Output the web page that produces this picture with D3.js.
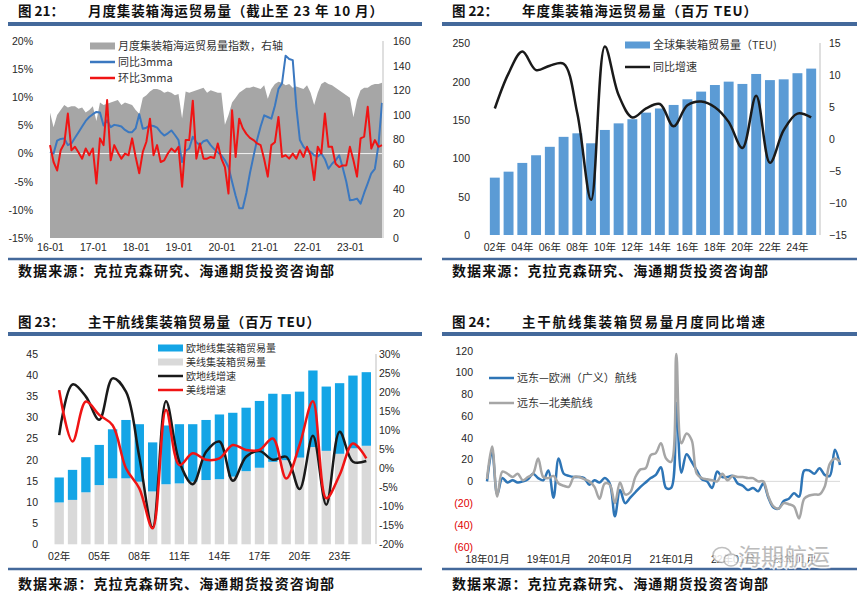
<!DOCTYPE html>
<html>
<head>
<meta charset="utf-8">
<script src="https://cdn.jsdelivr.net/npm/d3@7"></script>
<style>
body { margin: 0; background: #fff; }
svg { display: block; font-family: Arial, "Liberation Sans", "Noto Sans CJK SC", sans-serif; }
.axis path, .axis line { stroke: none; }
.axis text { font-size: 10.5px; fill: #262626; font-family: Arial, "Liberation Sans", "Noto Sans CJK SC", sans-serif; }
.title { font-family: "Noto Sans CJK SC", sans-serif; font-weight: 700; font-size: 13.5px; fill: #111; }
.source { font-family: "Noto Sans CJK SC", sans-serif; font-weight: 700; font-size: 14px; fill: #111; }
.legend { font-family: "Noto Sans CJK SC", sans-serif; font-size: 11px; fill: #333; }
.legend.small { font-size: 10px; }
</style>
</head>
<body>
<svg id="chart" width="864" height="593"></svg>
<script>
// ---- fig 21: monthly index (right axis), yoy 3mma, mom 3mma (left axis, %)
const p1Ticks = ['16-01', '17-01', '18-01', '19-01', '20-01', '21-01', '22-01', '23-01'];
const p1TickIdx = [0, 12, 24, 36, 48, 60, 72, 84];
const p1Index = [
  102, 90, 100, 104, 108, 106, 107, 107, 105, 106, 102, 104,
  107, 95, 110, 108, 109, 110, 111, 112, 108, 110, 109, 108,
  104, 101, 114, 116, 119, 121, 121, 120, 118, 119, 118, 116,
  117, 97, 119, 118, 119, 120, 121, 122, 118, 120, 119, 118,
  118, 92, 100, 110, 114, 118, 120, 122, 122, 123, 122, 121,
  124, 113, 121, 125, 127, 126, 124, 125, 122, 123, 122, 121,
  124, 118, 108, 118, 125, 127, 125, 124, 122, 120, 118, 116,
  114, 98, 112, 120, 122, 122, 124, 125, 125, 126];
const p1Yoy = [
  0.3, 0, 2.3, 2.6, 2.7, 1.5, 1.8, 2.8, 3.8, 4.8, 5.8, 6.5,
  7.0, 7.4, 7.3, 5.0, 5.9, 4.7, 5.1, 5.0, 4.8, 4.2, 3.8, 3.8,
  4.5, 7.0, 4.4, 4.6, 5.0, 4.9, 4.6, 3.8, 3.2, 3.6, 4.1, 3.3,
  2.4, -1.5, 0.5, 0.9, 3.0, 2.0, 1.5, 2.2, 2.4, 1.5, 0.8, 0.2,
  -0.3, -1.2, -2.4, -5.0, -7.5, -9.7, -9.7, -7.0, -3.5, -0.5, 2.4, 4.8,
  6.8, 6.5, 6.2, 8.5, 11.5, 12.5, 17.4, 16.8, 16.6, 8.3, 2.4, 1.2,
  0.6, 0.3, -0.3, -0.5, 0, -1.0, -2.7, -1.8, -1.2, -0.3, -2.5, -5.0,
  -8.3, -8.2, -8.0, -8.9, -7.0, -5.3, -3.5, -2.7, 1.5, 9.0];
const p1Mom = [
  1.5, -1.5, -3.0, 0.6, 1.8, 7.1, 0.6, 1.2, 0.2, -0.9, 0.9, -0.3,
  0.9, -5.3, 2.7, 1.5, 9.5, -1.2, 1.5, 0.2, -0.9, 0.0, -0.3, 2.7,
  -0.6, -3.5, 0.3, 2.1, 6.2, -0.3, 1.5, -1.5, -1.2, 0.0, 0.9, 0.3,
  1.2, -5.9, 2.4, 2.4, 9.4, -0.9, 1.8, -0.9, -0.9, -0.6, -0.8, 1.8,
  -0.9, -2.4, -7.1, 7.7, -0.6, 6.2, 4.5, 3.5, 2.8, 2.4, 1.8, 1.5,
  -1.0, -4.1, 1.5, 2.0, 6.5, -0.6, -0.3, -0.9, 0.0, -0.9, 0.6, -0.6,
  1.2, -0.3, -4.7, 1.2, 0.0, 7.1, 1.2, 1.2, -1.8, -2.4, -2.1, -2.1,
  1.2, -1.2, -4.1, 2.7, 3.0, 8.3, 0.9, 2.4, 1.2, 1.5];

// ---- fig 22: annual global container trade (mn TEU) and yoy growth (%)
const p2Years = ['02', '03', '04', '05', '06', '07', '08', '09', '10', '11', '12', '13',
  '14', '15', '16', '17', '18', '19', '20', '21', '22', '23', '24', '25'];
const p2Volume = [74.8, 82.6, 94, 104, 115, 128, 132.6, 119.6, 137, 145.6, 151, 159.6,
  165, 169.6, 177, 187, 195.6, 200, 197, 210, 202, 203, 211, 217];
const p2Growth = [4.8, 10.3, 13.7, 10.8, 11.5, 11.8, 4.0, -9.5, 14.5, 6.9, 3.4, 4.8,
  5.5, 2.0, 5.3, 5.9, 5.0, 2.7, -1.4, 6.8, -3.7, 1.4, 4.0, 3.4];

// ---- fig 23: main-lane trade (mn TEU) and growth (%)
const p3Years = p2Years.slice();
const p3Us = [9.9, 10.5, 12.3, 14.0, 15.6, 15.6, 14.8, 12.5, 14.2, 14.4, 14.8, 15.2,
  15.4, 16.0, 17.3, 18.1, 19.5, 19.9, 20.5, 23.0, 22.1, 21.4, 22.7, 23.3];
const p3Eu = [5.9, 7.1, 8.3, 9.5, 11.6, 13.8, 13.6, 11.6, 13.9, 14.0, 13.6, 14.2,
  15.3, 15.1, 15.0, 15.8, 16.1, 15.6, 15.6, 18.1, 15.2, 16.7, 17.2, 17.4];
const p3EuGrowth = [8.7, 22.0, 18.8, 12.7, 23.6, 20.1, 3.0, -15.6, 17.6, 1.7, -4.2, 4.3,
  7.0, -3.3, 3.0, 4.5, 2.2, 3.0, -5.5, 8.5, -9.6, 9.6, 1.7, 1.9];
const p3UsGrowth = [20.5, 7.0, 17.5, 14.0, 11.3, 0.0, -5.3, -15.8, 15.3, 0.8, 3.9, 2.2,
  2.6, 6.1, 4.8, 4.8, 7.8, -2.7, 6.1, 17.6, -7.9, -1.8, 6.5, 2.6];
const p3TickYears = ['02', '05', '08', '11', '14', '17', '20', '23'];

// ---- fig 24: monthly yoy growth, 18-01 .. 23-10
const p4Ticks = ['18年01月', '19年01月', '20年01月', '21年01月', '22年01月', '23年01月'];
const p4TickIdx = [0, 12, 24, 36, 48, 60];
const p4Europe = [
  0, 28, -12, 3, -1, 1, -1, 0, 2, 7, 3, 1,
  10, -15, 21, 7, 5, 4, 4, 3, -3, 1, -1, 3,
  -2, -32, -8, -20, -15, -10, -5, -1, 3, 6, 13, -6,
  -6, 72, 8, 25, 18, 10, 2, 0, -6, 9, 4, 4,
  5, -2, -4, -8, -6, -9, -2, -15, -24, -25, -18, -16,
  -11, -14, 10, 10, 7, 12, 6, 5, 29, 15];
const p4America = [
  2, 32, -14, 9, 7, 4, 7, 1, 4, 7, 21, 4,
  3, 5, -2, -4, -5, 4, 4, 2, 0, -5, -16, -2,
  -3, -20, -1, -12, -10, 4, 11, 12, 24, 26, 35, 21,
  18, 117, 35, 44, 38, 7, 3, 2, 1, 0, 7, 1,
  5, 4, 4, 3, 3, 0, 0, -14, -23, -25, -20, -21,
  -23, -34, -16, -13, -12, -12, -5, 16, 21, 18];

const svg = d3.select('#chart');
svg.append('rect').attr('width', 864).attr('height', 593).attr('fill', '#fff');

function header(x, y, num, text, len) {
  svg.append('text').attr('class', 'title').attr('x', x).attr('y', y).text('图 ' + num + '：');
  svg.append('text').attr('class', 'title').attr('x', x + 70).attr('y', y)
    .attr('textLength', len).attr('lengthAdjust', 'spacing').text(text);
}
function rule(x1, x2, y, w) {
  svg.append('line').attr('x1', x1).attr('x2', x2).attr('y1', y).attr('y2', y)
    .attr('stroke', '#44699b').attr('stroke-width', w);
}
function source(x, y) {
  svg.append('text').attr('class', 'source').attr('x', x).attr('y', y)
    .attr('textLength', 316).attr('lengthAdjust', 'spacing')
    .text('数据来源：克拉克森研究、海通期货投资咨询部');
}
function legendLine(x, y, color, label, cls) {
  svg.append('line').attr('x1', x).attr('x2', x + 25).attr('y1', y).attr('y2', y)
    .attr('stroke', color).attr('stroke-width', 2.5);
  svg.append('text').attr('class', 'legend ' + (cls || '')).attr('x', x + 28).attr('y', y + 4).text(label);
}
function legendRect(x, y, color, label, cls) {
  svg.append('rect').attr('x', x).attr('y', y - 3.5).attr('width', 25).attr('height', 7).attr('fill', color);
  svg.append('text').attr('class', 'legend ' + (cls || '')).attr('x', x + 28).attr('y', y + 4).text(label);
}

// headers, rules and sources
header(18, 16, '21', '月度集装箱海运贸易量（截止至 23 年 10 月）', 295);
header(452, 16, '22', '年度集装箱海运贸易量（百万 TEU）', 235);
header(18, 327, '23', '主干航线集装箱贸易量（百万 TEU）', 232);
header(452, 327, '24', '主干航线集装箱贸易量月度同比增速', 243);
rule(8, 422, 24, 4); rule(442, 857, 24, 4);
rule(8, 422, 334, 4); rule(442, 857, 334, 4);
rule(8, 422, 259, 2.5); rule(442, 857, 259, 2.5);
rule(8, 422, 569, 2.5); rule(442, 857, 569, 2.5);
source(18, 276); source(452, 276);
source(18, 589); source(452, 589);

// ================= fig 21 =================
{
  const x = d3.scaleLinear().domain([0, p1Index.length - 1]).range([50, 382]);
  const yL = d3.scaleLinear().domain([-15, 20]).range([238, 41]);
  const yR = d3.scaleLinear().domain([0, 160]).range([238, 41]);

  svg.append('path').datum(p1Index)
    .attr('fill', '#a6a6a6')
    .attr('d', d3.area().x((d, i) => x(i)).y0(yR(0)).y1(d => yR(d)));
  svg.append('line').attr('x1', x(0)).attr('x2', x(p1Index.length - 1))
    .attr('y1', yL(0)).attr('y2', yL(0)).attr('stroke', '#f2f2f2').attr('stroke-width', 1);

  const line = d3.line().x((d, i) => x(i)).y(d => yL(d));
  svg.append('path').datum(p1Yoy).attr('fill', 'none').attr('stroke', '#3b78c0')
    .attr('stroke-width', 2).attr('stroke-linejoin', 'round').attr('d', line);
  svg.append('path').datum(p1Mom).attr('fill', 'none').attr('stroke', '#f01414')
    .attr('stroke-width', 2).attr('stroke-linejoin', 'round').attr('d', line);

  svg.append('line').attr('x1', 383).attr('x2', 383).attr('y1', 41).attr('y2', 238)
    .attr('stroke', '#bfbfbf');

  svg.append('g').attr('class', 'axis').attr('transform', 'translate(35,0)')
    .call(d3.axisLeft(yL).tickValues(d3.range(-15, 21, 5)).tickFormat(d => d + '%').tickSize(0).tickPadding(2));
  svg.append('g').attr('class', 'axis').attr('transform', 'translate(383,0)')
    .call(d3.axisRight(yR).tickValues(d3.range(0, 161, 20)).tickSize(0).tickPadding(10));
  svg.append('g').attr('class', 'axis').attr('transform', 'translate(0,240)')
    .call(d3.axisBottom(x).tickValues(p1TickIdx).tickFormat((d, i) => p1Ticks[i]).tickSize(0).tickPadding(4));

  legendRect(90, 46, '#a6a6a6', '月度集装箱海运贸易量指数，右轴');
  legendLine(90, 62, '#3b78c0', '同比3mma');
  legendLine(90, 78, '#f01414', '环比3mma');
}

// ================= fig 22 =================
{
  const x = d3.scaleBand().domain(p2Years).range([486, 820]).padding(0.28);
  const yL = d3.scaleLinear().domain([0, 250]).range([235, 43.3]);
  const yR = d3.scaleLinear().domain([-15, 15]).range([235, 43.3]);

  svg.append('g').selectAll('rect').data(p2Volume).enter().append('rect')
    .attr('x', (d, i) => x(p2Years[i]))
    .attr('y', d => yL(d))
    .attr('width', x.bandwidth())
    .attr('height', d => yL(0) - yL(d))
    .attr('fill', '#5b9bd5');

  svg.append('path').datum(p2Growth).attr('fill', 'none').attr('stroke', '#1a1a1a')
    .attr('stroke-width', 2.5)
    .attr('d', d3.line().curve(d3.curveCatmullRom.alpha(0.5))
      .x((d, i) => x(p2Years[i]) + x.bandwidth() / 2).y(d => yR(d)));

  svg.append('line').attr('x1', 820).attr('x2', 820).attr('y1', 43).attr('y2', 235)
    .attr('stroke', '#bfbfbf');

  svg.append('g').attr('class', 'axis').attr('transform', 'translate(472,0)')
    .call(d3.axisLeft(yL).tickValues(d3.range(0, 251, 50)).tickSize(0).tickPadding(2));
  svg.append('g').attr('class', 'axis').attr('transform', 'translate(820,0)')
    .call(d3.axisRight(yR).tickValues(d3.range(-15, 16, 5)).tickSize(0).tickPadding(9));
  svg.append('g').attr('class', 'axis').attr('transform', 'translate(0,240)')
    .call(d3.axisBottom(x).tickValues(p2Years.filter((d, i) => i % 2 === 0))
      .tickFormat(d => d + '年').tickSize(0).tickPadding(4));

  legendRect(625, 45, '#5b9bd5', '全球集装箱贸易量（TEU)');
  legendLine(625, 67, '#1a1a1a', '同比增速');
}

// ================= fig 23 =================
{
  const x = d3.scaleBand().domain(p3Years).range([50.5, 375]).padding(0.3);
  const yL = d3.scaleLinear().domain([0, 45]).range([544.3, 354]);
  const yR = d3.scaleLinear().domain([-20, 30]).range([544.3, 354]);

  const stacked = d3.stack().keys(['us', 'eu'])(p3Years.map((y, i) => ({ year: y, us: p3Us[i], eu: p3Eu[i] })));
  const colors = { us: '#d9d9d9', eu: '#14a5e6' };
  svg.append('g').selectAll('g').data(stacked).enter().append('g')
    .attr('fill', d => colors[d.key])
    .selectAll('rect').data(d => d).enter().append('rect')
    .attr('x', d => x(d.data.year))
    .attr('y', d => yL(d[1]))
    .attr('width', x.bandwidth())
    .attr('height', d => yL(d[0]) - yL(d[1]));

  const line = d3.line().curve(d3.curveCatmullRom.alpha(0.5))
    .x((d, i) => x(p3Years[i]) + x.bandwidth() / 2).y(d => yR(d));
  svg.append('path').datum(p3EuGrowth).attr('fill', 'none').attr('stroke', '#1a1a1a')
    .attr('stroke-width', 2.5).attr('d', line);
  svg.append('path').datum(p3UsGrowth).attr('fill', 'none').attr('stroke', '#f01414')
    .attr('stroke-width', 2.5).attr('d', line);

  svg.append('line').attr('x1', 376).attr('x2', 376).attr('y1', 354).attr('y2', 544)
    .attr('stroke', '#bfbfbf');

  svg.append('g').attr('class', 'axis').attr('transform', 'translate(40,0)')
    .call(d3.axisLeft(yL).tickValues(d3.range(0, 46, 5)).tickSize(0).tickPadding(2));
  svg.append('g').attr('class', 'axis').attr('transform', 'translate(376,0)')
    .call(d3.axisRight(yR).tickValues(d3.range(-20, 31, 5)).tickFormat(d => d + '%').tickSize(0).tickPadding(3));
  svg.append('g').attr('class', 'axis').attr('transform', 'translate(0,549)')
    .call(d3.axisBottom(x).tickValues(p3TickYears).tickFormat(d => d + '年').tickSize(0).tickPadding(4));

  legendRect(158, 348, '#14a5e6', '欧地线集装箱贸易量', 'small');
  legendRect(158, 362, '#d9d9d9', '美线集装箱贸易量', 'small');
  legendLine(158, 376, '#1a1a1a', '欧地线增速', 'small');
  legendLine(158, 390, '#f01414', '美线增速', 'small');
}

// ================= fig 24 =================
{
  const x = d3.scaleLinear().domain([0, p4Europe.length - 1]).range([487, 840]);
  const y = d3.scaleLinear().domain([-60, 120]).range([546.7, 350.7]);

  svg.append('line').attr('x1', x(0)).attr('x2', x(p4Europe.length - 1))
    .attr('y1', y(0)).attr('y2', y(0)).attr('stroke', '#d9d9d9');

  const line = d3.line().curve(d3.curveCatmullRom.alpha(0.5)).x((d, i) => x(i)).y(d => y(d));
  svg.append('path').datum(p4Europe).attr('fill', 'none').attr('stroke', '#2e75b6')
    .attr('stroke-width', 2.5).attr('d', line);
  svg.append('path').datum(p4America).attr('fill', 'none').attr('stroke', '#a6a6a6')
    .attr('stroke-width', 2.5).attr('d', line);

  svg.append('g').attr('class', 'axis').attr('transform', 'translate(475,0)')
    .call(d3.axisLeft(y).tickValues(d3.range(-60, 121, 20))
      .tickFormat(d => d < 0 ? '(' + (-d) + ')' : d).tickSize(0).tickPadding(2))
    .selectAll('text').style('fill', d => d < 0 ? '#e00000' : '#262626');
  svg.append('g').attr('class', 'axis').attr('transform', 'translate(0,552)')
    .call(d3.axisBottom(x).tickValues(p4TickIdx).tickFormat((d, i) => p4Ticks[i]).tickSize(0).tickPadding(4));

  legendLine(489, 378, '#2e75b6', '远东—欧洲（广义）航线');
  legendLine(489, 403, '#a6a6a6', '远东—北美航线');

  // watermark (sits over the last x labels, as in the source image)
  const wm = svg.append('g').attr('opacity', 0.85);
  wm.append('ellipse').attr('cx', 722).attr('cy', 555).attr('rx', 9).attr('ry', 7.5)
    .attr('fill', '#fff').attr('stroke', '#b5b5b5').attr('stroke-width', 1.5);
  wm.append('ellipse').attr('cx', 731).attr('cy', 560).attr('rx', 7).attr('ry', 6)
    .attr('fill', '#fff').attr('stroke', '#b5b5b5').attr('stroke-width', 1.5);
  wm.append('text').attr('x', 738).attr('y', 565)
    .attr('font-family', '"Noto Sans CJK SC", sans-serif').attr('font-size', 23)
    .attr('fill', '#b0b0b0').attr('stroke', '#fff').attr('stroke-width', 3)
    .attr('paint-order', 'stroke').text('海期航运');
}
</script>
</body>
</html>
